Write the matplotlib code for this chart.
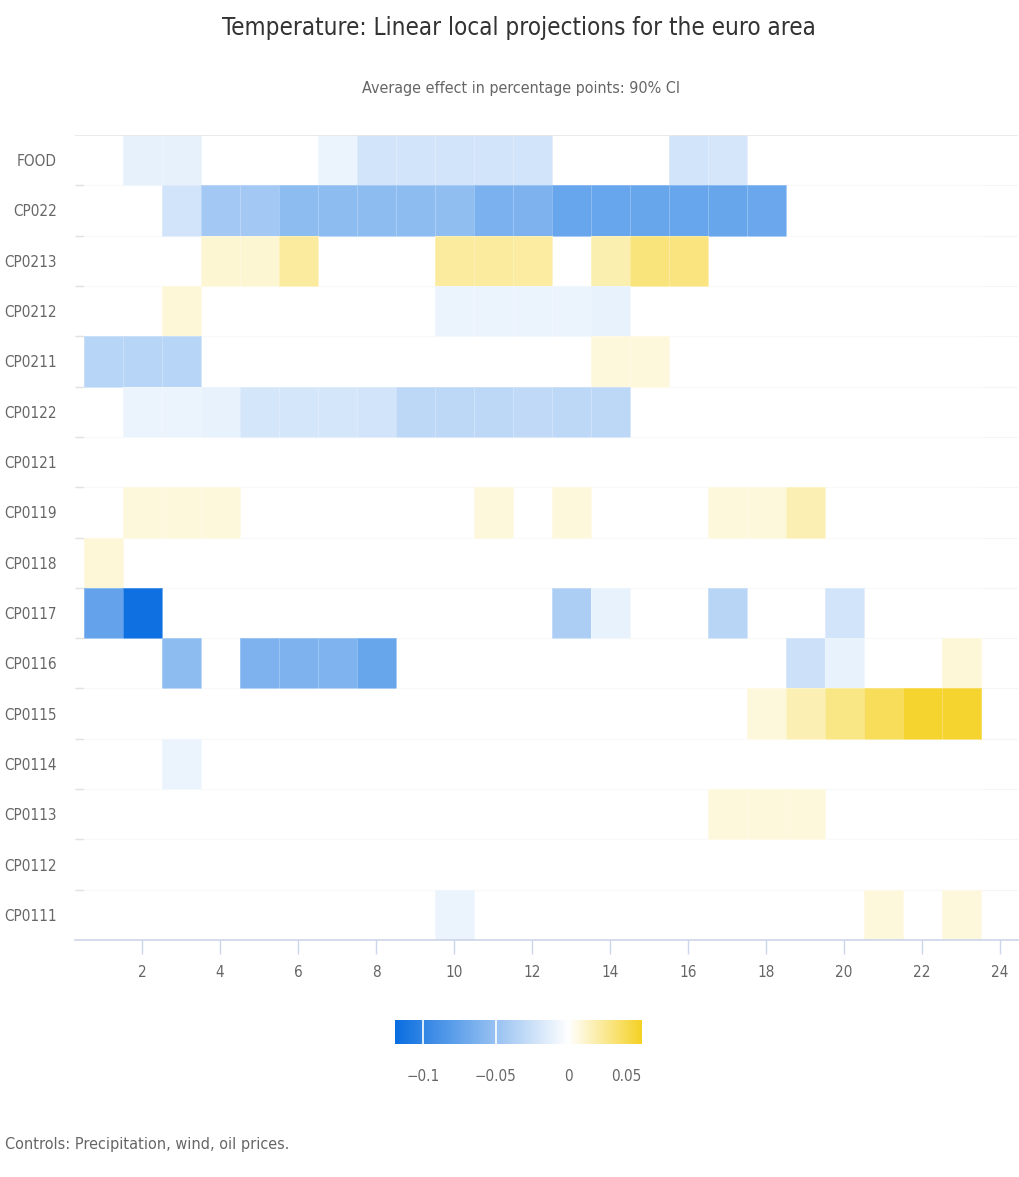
import numpy as np
import matplotlib.pyplot as plt
from matplotlib.colors import LinearSegmentedColormap, Normalize

plt.rcParams['font.family'] = ['DejaVu Sans']

N = None
rows = ['FOOD', 'CP022', 'CP0213', 'CP0212', 'CP0211', 'CP0122', 'CP0121', 'CP0119',
        'CP0118', 'CP0117', 'CP0116', 'CP0115', 'CP0114', 'CP0113', 'CP0112', 'CP0111']
horizons = list(range(1, 24))

# one list per row, horizons 1..23 (None = not significant)
food = [N, -0.012, -0.012, N, N, N, -0.010, -0.022, -0.022, -0.022, -0.022, -0.022,
        N, N, N, -0.022, -0.020, N, N, N, N, N, N]
cp022 = [N, N, -0.022, -0.045, -0.045, -0.055, -0.055, -0.055, -0.055, -0.053, -0.064, -0.063,
         -0.074, -0.074, -0.073, -0.074, -0.073, -0.072, N, N, N, N, N]
cp0213 = [N, N, N, 0.010, 0.010, 0.022, N, N, N, 0.022, 0.022, 0.021,
          N, 0.018, 0.030, 0.029, N, N, N, N, N, N, N]
cp0212 = [N, N, 0.009, N, N, N, N, N, N, -0.010, -0.010, -0.010,
          -0.010, -0.011, N, N, N, N, N, N, N, N, N]
cp0211 = [-0.035, -0.035, -0.035, N, N, N, N, N, N, N, N, N,
          N, 0.008, 0.008, N, N, N, N, N, N, N, N]
cp0122 = [N, -0.010, -0.010, -0.011, -0.021, -0.021, -0.021, -0.022, -0.032, -0.032, -0.032, -0.031,
          -0.032, -0.032, N, N, N, N, N, N, N, N, N]
cp0121 = [N] * 23
cp0119 = [N, 0.008, 0.008, 0.008, N, N, N, N, N, N, 0.008, N,
          0.008, N, N, N, 0.008, 0.008, 0.017, N, N, N, N]
cp0118 = [0.009] + [N] * 22
cp0117 = [-0.075, -0.117, N, N, N, N, N, N, N, N, N, N,
          -0.040, -0.011, N, N, -0.034, N, N, -0.022, N, N, N]
cp0116 = [N, N, -0.055, N, -0.063, -0.063, -0.062, -0.073, N, N, N, N,
          N, N, N, N, N, N, -0.025, -0.011, N, N, 0.009]
cp0115 = [N] * 17 + [0.008, 0.017, 0.028, 0.038, 0.048, 0.048]
cp0114 = [N, N, -0.010] + [N] * 20
cp0113 = [N] * 16 + [0.008, 0.008, 0.008, N, N, N, N]
cp0112 = [N] * 23
cp0111 = [N] * 9 + [-0.010] + [N] * 10 + [0.008, N, 0.008]

series = [food, cp022, cp0213, cp0212, cp0211, cp0122, cp0121, cp0119,
          cp0118, cp0117, cp0116, cp0115, cp0114, cp0113, cp0112, cp0111]

vmin, vmax = -0.119, 0.05
zero_pos = -vmin / (vmax - vmin)
cmap = LinearSegmentedColormap.from_list(
    'bwy', [(0, '#0a6ee0'), (zero_pos, '#ffffff'), (1, '#f5d226')])
norm = Normalize(vmin, vmax)

fig = plt.figure(figsize=(10.2, 11.77), dpi=100)
ax = fig.add_axes([75 / 1020, 1 - 940 / 1177, 943 / 1020, 805 / 1177])

z = np.array([[np.nan if v is None else v for v in r] for r in series], dtype=float)
nrow = len(rows)
xe = np.arange(0.5, 24.0, 1.0)
ye = np.arange(nrow + 1) - 0.5
ax.pcolormesh(xe, ye, np.ma.masked_invalid(z), cmap=cmap, norm=norm,
              edgecolors=(1, 1, 1, 0.25), linewidth=0.6, zorder=2)

ax.set_xlim(0.28, 24.46)
ax.set_ylim(nrow - 0.5, -0.5)

# row separators
for b in ye[1:-1]:
    ax.hlines(b, 0.28, 24.46, color='#f5f5f5', lw=0.8, zorder=1)
    ax.hlines(b, 0.28, 0.5, color='#e2e2e2', lw=1.0, zorder=1)
ax.hlines(-0.5, 0.28, 24.46, color='#e6e6e6', lw=1.2, zorder=3)

for s in ['top', 'right', 'left']:
    ax.spines[s].set_visible(False)
ax.spines['bottom'].set_color('#ccd6eb')
ax.spines['bottom'].set_linewidth(1.2)

label_font = dict(family='DejaVu Sans', stretch='condensed')
ax.set_yticks(range(nrow))
ax.set_yticklabels(rows, color='#666666', fontsize=11, **label_font)
ax.tick_params(axis='y', length=0, pad=13)
ax.set_xticks(range(2, 25, 2))
ax.set_xticklabels([str(v) for v in range(2, 25, 2)], color='#666666', fontsize=11, **label_font)
ax.tick_params(axis='x', length=10, width=1, color='#ccd6eb', pad=8)

fig.text(0.509, 1 - 28 / 1177, 'Temperature: Linear local projections for the euro area',
         ha='center', va='center', fontsize=17.4, color='#333333', **label_font)
fig.text(0.511, 1 - 88 / 1177, 'Average effect in percentage points: 90% CI',
         ha='center', va='center', fontsize=11.5, color='#666666', **label_font)
fig.text(5 / 1020, 1 - 1145 / 1177, 'Controls: Precipitation, wind, oil prices.',
         ha='left', va='center', fontsize=11.6, color='#666666', **label_font)

# colour bar
cax = fig.add_axes([395 / 1020, 1 - 1044 / 1177, 247 / 1020, 24 / 1177])
grad = np.linspace(vmin, vmax, 400).reshape(1, -1)
cax.imshow(grad, cmap=cmap, norm=norm, aspect='auto', extent=[vmin, vmax, 0, 1])
cbar_ticks = [-0.1, -0.05, 0, 0.05]
for t in cbar_ticks[:-1]:
    cax.axvline(t, color='white', lw=1.2)
cax.set_xlim(vmin, vmax)
cax.set_yticks([])
cax.set_xticks(cbar_ticks)
cax.set_xticklabels(['\u22120.1', '\u22120.05', '0', '0.05'], color='#666666', fontsize=11, **label_font)
cax.get_xticklabels()[-1].set_horizontalalignment('right')
cax.tick_params(axis='x', length=0, pad=18)
for s in cax.spines.values():
    s.set_visible(False)

fig.savefig('out.png', dpi=100, facecolor='white')
